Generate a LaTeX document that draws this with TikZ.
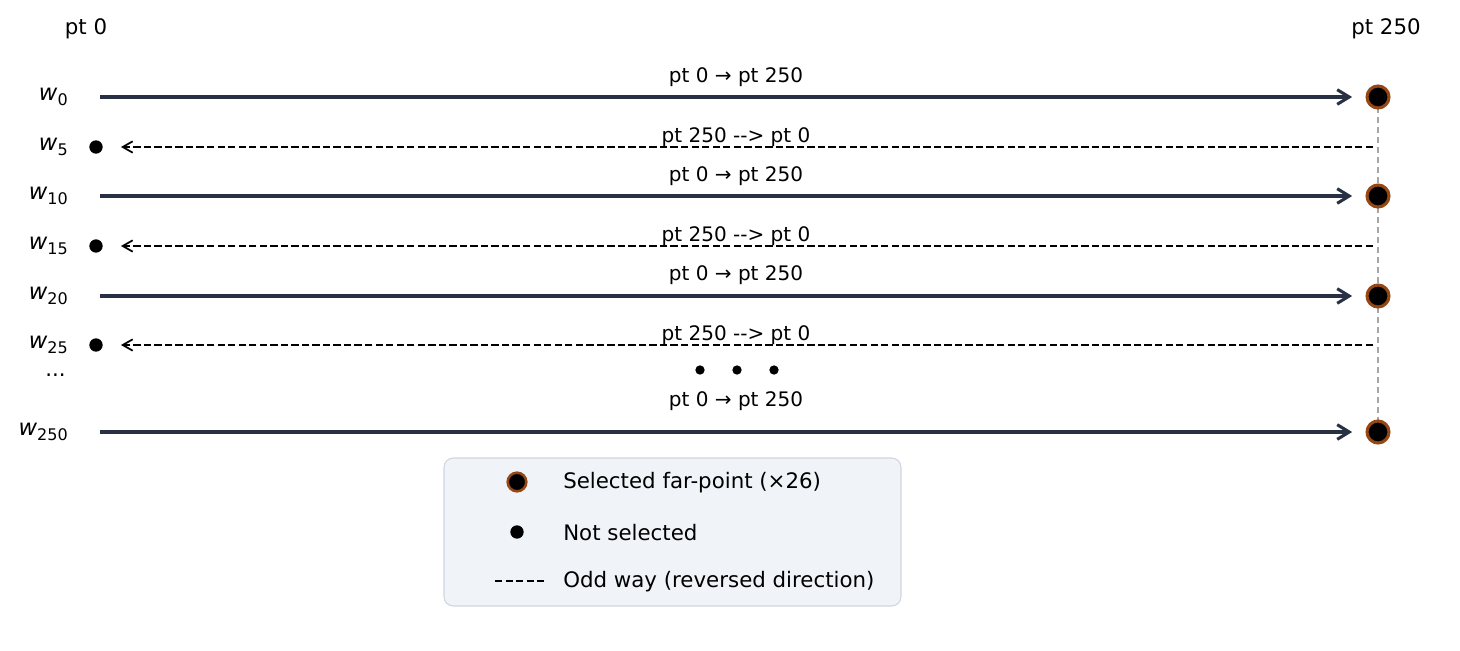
\documentclass[tikz,border=0pt]{standalone}
\usepackage{fontspec}
\setmainfont{DejaVu Sans}[Ligatures=TeXOff]
\usepackage{tikz}
\usetikzlibrary{positioning,arrows.meta,backgrounds}

\definecolor{navy}{RGB}{40,48,68}
\definecolor{rust}{RGB}{150,72,20}
\definecolor{legfill}{RGB}{240,243,248}
\definecolor{legdraw}{RGB}{208,215,224}
\newcommand{\wname}[1]{\textit{w}{\fontsize{12}{12}\selectfont\raisebox{-0.3em}{#1}}}

\begin{document}
\begin{tikzpicture}[
    x=0.75pt, y=-0.75pt,
    node distance=37pt,
    sel/.style={circle, draw=rust, fill=black, line width=2.3pt, minimum size=16.5pt, inner sep=0pt},
    unsel/.style={circle, fill=black, minimum size=10pt, inner sep=0pt},
    mid/.style={circle, fill=black, minimum size=7pt, inner sep=0pt},
    fwd/.style={-{Straight Barb[length=9pt,width=11pt]}, line width=2.3pt, navy, shorten >=10pt},
    rev/.style={-{Straight Barb[length=7.5pt,width=8.5pt]}, line width=1.3pt, dash pattern=on 5.5pt off 2.4pt, shorten >=13.5pt},
    vline/.style={gray!70, line width=1.2pt, dash pattern=on 4.5pt off 3pt},
    head/.style={font=\fontsize{16}{16}\selectfont},
    lab/.style={font=\fontsize{15}{15}\selectfont, inner sep=0pt},
    wlab/.style={anchor=east, inner sep=0pt, font=\fontsize{17}{17}\selectfont},
    legbox/.style={draw=legdraw, fill=legfill, rounded corners=7pt, line width=0.8pt, minimum width=342.75pt, minimum height=111pt},
    keytext/.style={anchor=west, inner sep=0pt, font=\fontsize{16}{16}\selectfont}
]
    \useasboundingbox (0,0) rectangle (1460,650);

    \node[head] (p0) at (86,29) {pt 0};
    \node[head] (p250) at (1386,29) {pt 250};

    % way labels
    \node[wlab] (l0) at (68,97) {\wname{0}};
    \node[wlab] (l5) at (68,147) {\wname{5}};
    \node[wlab] (l10) at (68,196) {\wname{10}};
    \node[wlab] (l15) at (68,246) {\wname{15}};
    \node[wlab] (l20) at (68,296) {\wname{20}};
    \node[wlab] (l25) at (68,345) {\wname{25}};
    \node[wlab, font=\fontsize{16}{16}\selectfont] (more) at (66,375) {...};
    \node[wlab] (l250) at (68,432) {\wname{250}};

    % end points
    \node[sel] (e0) at (1378,97) {};
    \node[unsel] (n5) at (96,147) {};
    \node[sel] (e10) at (1378,196) {};
    \node[unsel] (n15) at (96,246) {};
    \node[sel] (e20) at (1378,296) {};
    \node[unsel] (n25) at (96,345) {};
    \node[sel] (e250) at (1378,432) {};

    \begin{scope}[on background layer]
        \draw[vline] (e0.center) -- (e250.center);
    \end{scope}

    \coordinate (s0) at (100,97);
    \coordinate (r5) at (1373,147);
    \coordinate (s10) at (100,196);
    \coordinate (r15) at (1373,246);
    \coordinate (s20) at (100,296);
    \coordinate (r25) at (1373,345);
    \coordinate (s250) at (100,432);

    \draw[fwd] (s0) -- (e0);
    \draw[rev] (r5) -- (n5);
    \draw[fwd] (s10) -- (e10);
    \draw[rev] (r15) -- (n15);
    \draw[fwd] (s20) -- (e20);
    \draw[rev] (r25) -- (n25);
    \draw[fwd] (s250) -- (e250);

    \node[lab] (t0) at (736,77) {pt 0 → pt 250};
    \node[lab] (t5) at (736,137) {pt 250 --> pt 0};
    \node[lab] (t10) at (736,176) {pt 0 → pt 250};
    \node[lab] (t15) at (736,236) {pt 250 --> pt 0};
    \node[lab] (t20) at (736,275) {pt 0 → pt 250};
    \node[lab] (t25) at (736,335) {pt 250 --> pt 0};
    \node[lab] (t250) at (736,401) {pt 0 → pt 250};

    \node[mid] (d1) at (700,370) {};
    \node[mid] (d2) at (737,370) {};
    \node[mid] (d3) at (774,370) {};

    % legend
    \node[legbox] (leg) at (672.5,532) {};
    \node[sel, minimum size=14pt, line width=1.9pt] (k1) at (517,482) {};
    \node[unsel, minimum size=10pt] (k2) at (517,532) {};
    \coordinate (k3a) at (495,581);
    \coordinate (k3b) at (545,581);
    \draw[line width=1.2pt, dash pattern=on 5.5pt off 2.4pt] (k3a) -- (k3b);
    \node[keytext] (key1) at (563,483) {Selected far-point (×26)};
    \node[keytext, below=of key1.west, anchor=west] (key2) {Not selected};
    \node[keytext, below=of key2.west, anchor=west] (key3) {Odd way (reversed direction)};
\end{tikzpicture}
\end{document}
